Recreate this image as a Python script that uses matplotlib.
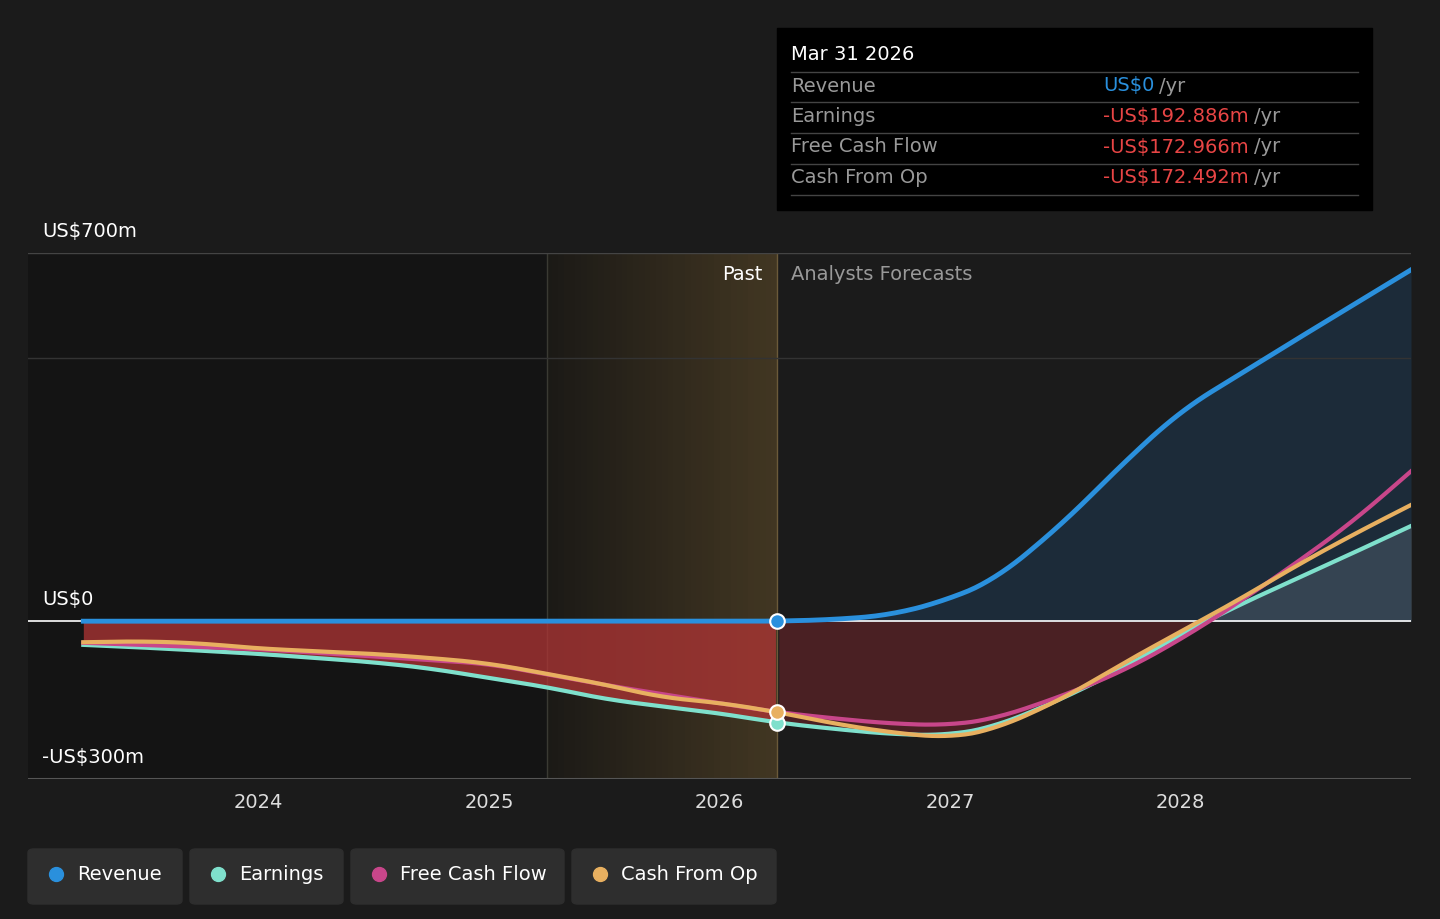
import matplotlib
matplotlib.use("Agg")
import matplotlib.pyplot as plt
from matplotlib.patches import FancyBboxPatch, Rectangle
import numpy as np

rev_x = [2023.24, 2026.25, 2026.5, 2026.75, 2027.0, 2027.2, 2027.5, 2027.75, 2028.0, 2028.5, 2029.0]
rev_y = [0, 0, 3, 12, 42, 80, 190, 300, 400, 535, 668]
earn_x = [2023.24, 2023.5, 2024, 2024.5, 2024.75, 2025, 2025.25, 2025.5, 2025.75, 2026, 2026.25,
          2026.5, 2026.75, 2027, 2027.2, 2027.5, 2027.75, 2028, 2028.25, 2028.5, 2028.75, 2029]
earn_y = [-45, -50, -62, -78, -90, -108, -125, -148, -162, -175, -192.9,
          -205, -215, -217, -200, -145, -90, -25, 30, 80, 130, 181]
cfo_x = [2023.24, 2023.5, 2023.75, 2024, 2024.5, 2024.75, 2025, 2025.25, 2025.5, 2025.75, 2026, 2026.25,
         2026.5, 2026.75, 2027, 2027.2, 2027.5, 2027.75, 2028, 2028.25, 2028.5, 2028.75, 2029]
cfo_y = [-40, -38, -42, -52, -62, -70, -80, -100, -120, -145, -155, -172.5,
         -195, -212, -222, -205, -145, -80, -20, 40, 105, 165, 221]
fcf_x = [2023.24, 2024, 2025, 2025.5, 2026, 2026.25, 2026.5, 2026.75, 2027, 2027.2, 2027.5, 2027.75,
         2028, 2028.25, 2028.5, 2028.75, 2029]
fcf_y = [-41, -53, -81, -121, -156, -173, -185, -195, -198, -185, -140, -95, -35, 35, 110, 190, 285]
years = [2024, 2025, 2026, 2027, 2028]

def smooth(x, y, n=400):
    x = np.array(x, float); y = np.array(y, float)
    xs = np.linspace(x[0], x[-1], n)
    ys = np.interp(xs, x, y)
    k = 9
    pad = np.pad(ys, k, mode='reflect', reflect_type='odd')
    ys2 = np.convolve(pad, np.ones(2*k+1)/(2*k+1), mode='valid')
    return xs, ys2

BG = "#1b1b1b"
FS = 14
fig = plt.figure(figsize=(14.4, 9.19), dpi=100, facecolor=BG)
ax = fig.add_axes([28/1440, 140/919, 1383/1440, 526/919])
ax.set_facecolor(BG)
ax.set_xlim(2023.0, 2029.0)
ax.set_ylim(-300, 700)
for s in ax.spines.values():
    s.set_visible(False)

PAST = 2026.25
ax.axvspan(2023.0, PAST, color="#141414", zorder=0)
n = 40
for i in range(n):
    a0 = 2025.25 + i/n; a1 = a0 + 1/n
    ax.axvspan(a0, a1, color="#b08a45", alpha=0.05 + 0.25*i/n, lw=0, zorder=0.5)
ax.axvline(2025.25, color="#3a3a33", lw=1, zorder=1)
ax.axvline(PAST, color="#6b5a3a", lw=1, zorder=1)
ax.axhline(700, color="#444", lw=1)
ax.axhline(500, color="#333", lw=1)
ax.axhline(-300, color="#555", lw=1.5)

ex, ey = smooth(earn_x, earn_y)
cx, cy = smooth(cfo_x, cfo_y)
fx, fy = smooth(fcf_x, fcf_y)
rx, ry = smooth(rev_x, rev_y)

past = ex <= PAST
ax.fill_between(ex[past], 0, ey[past], color="#b03535", alpha=0.75, lw=0, zorder=1)
fut = ex >= PAST
ax.fill_between(ex[fut], 0, np.minimum(ey[fut], 0), color="#5a2226", alpha=0.75, lw=0, zorder=1)
ax.fill_between(ex[fut], 0, np.maximum(ey[fut], 0), color="#77777a", alpha=0.6, lw=0, zorder=1)
ax.fill_between(rx, 0, ry, color="#1e3a52", alpha=0.55, lw=0, zorder=1)

ax.axhline(0, color="white", lw=1.2, zorder=2)
ax.plot(ex, ey, color="#7fe0cc", lw=3, zorder=3)
ax.plot(fx, fy, color="#c8468a", lw=3, zorder=3)
ax.plot(cx, cy, color="#e8b060", lw=3, zorder=4)
ax.plot(rx, ry, color="#2a90dd", lw=3.5, zorder=5)

ax.scatter([PAST], [0], s=110, color="#2a90dd", edgecolor="white", lw=1.5, zorder=6)
ax.scatter([PAST], [-192.9], s=110, color="#7fe0cc", edgecolor="white", lw=1.5, zorder=6)
ax.scatter([PAST], [-172.5], s=110, color="#e8b060", edgecolor="white", lw=1.5, zorder=6)

ax.set_yticks([])
ax.set_xticks(years)
ax.set_xticklabels([str(y) for y in years], color="#dddddd", fontsize=FS)
ax.tick_params(axis='x', length=0, pad=10)

fig.text(42/1440, 1-232/919, "US$700m", color="white", fontsize=FS, va="center")
fig.text(42/1440, 1-600/919, "US$0", color="white", fontsize=FS, va="center")
fig.text(42/1440, 1-758/919, "-US$300m", color="white", fontsize=FS, va="center")
fig.text(762/1440, 1-274/919, "Past", color="white", fontsize=FS, va="center", ha="right")
fig.text(791/1440, 1-274/919, "Analysts Forecasts", color="#999999", fontsize=FS, va="center")

fig.patches.append(Rectangle((777/1440, 1-210/919), 595/1440, 182/919, transform=fig.transFigure,
                             color="black", zorder=10))
fig.text(791/1440, 1-55/919, "Mar 31 2026", color="white", fontsize=FS, va="center", zorder=11)
rows = [("Revenue", "US$0", "#2a90dd"), ("Earnings", "-US$192.886m", "#e84545"),
        ("Free Cash Flow", "-US$172.966m", "#e84545"), ("Cash From Op", "-US$172.492m", "#e84545")]
fig.canvas.draw()
for i, (lab, val, col) in enumerate(rows):
    y = 86 + i*30.5
    fig.text(791/1440, 1-y/919, lab, color="#999999", fontsize=FS, va="center", zorder=11)
    t = fig.text(1103/1440, 1-y/919, val, color=col, fontsize=FS, va="center", zorder=11)
    bb = t.get_window_extent(renderer=fig.canvas.get_renderer())
    fig.text(bb.x1/1440 + 5/1440, 1-y/919, "/yr", color="#999999", fontsize=FS, va="center", zorder=11)
for yl in [72, 102, 133, 164, 195]:
    fig.add_artist(plt.Line2D([791/1440, 1358/1440], [1-yl/919]*2, color="#444", lw=1, zorder=11))

legend = [("Revenue", "#2a90dd", 28, 182), ("Earnings", "#7fe0cc", 190, 343),
          ("Free Cash Flow", "#c8468a", 351, 564), ("Cash From Op", "#e8b060", 572, 776)]
for lab, col, x0, x1 in legend:
    fig.patches.append(FancyBboxPatch((x0/1440, 1-904/919), (x1-x0)/1440, 55/919,
                                      boxstyle="round,pad=0,rounding_size=0.004",
                                      transform=fig.transFigure, color="#2e2e2e"))
    fig.add_artist(plt.Line2D([(x0+28)/1440], [1-874/919], marker="o", ms=10, color=col, lw=0))
    fig.text((x0+49)/1440, 1-874/919, lab, color="white", fontsize=FS, va="center")

fig.savefig("out.png", dpi=100, facecolor=BG)
